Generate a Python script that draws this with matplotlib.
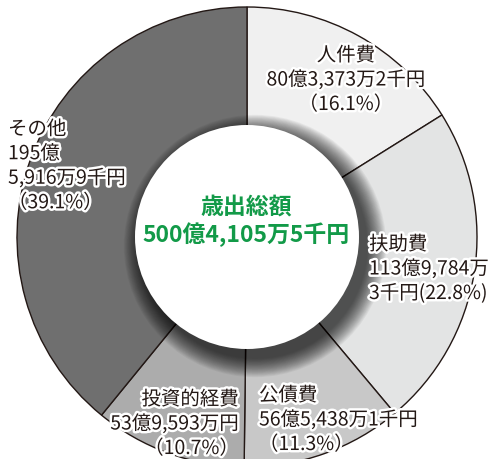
import numpy as np
import matplotlib.pyplot as plt
import matplotlib.patheffects as pe
from matplotlib.patches import Circle

plt.rcParams['font.family'] = ['Noto Sans CJK JP', 'DejaVu Sans']

# 歳出の内訳 (%)
items = ['人件費', '扶助費', '公債費', '投資的経費', 'その他']
shares = [16.1, 22.8, 11.3, 10.7, 39.1]
colors = ['#f0f0f0', '#e3e4e4', '#c8c8c8', '#acacac', '#6f6f6f']
labels = [
    '人件費\n80億3,373万2千円\n（16.1%）',
    '扶助費\n113億9,784万\n3千円(22.8%)',
    '公債費\n56億5,438万1千円\n（11.3%）',
    '投資的経費\n53億9,593万円\n（10.7%）',
    'その他\n195億\n5,916万9千円\n（39.1%）',
]
total_label = '歳出総額\n500億4,105万5千円'

W, H = 499, 459
fig = plt.figure(figsize=(W / 100, H / 100), dpi=100)
ax = fig.add_axes([0, 0, 1, 1])

cx, cy = 247, H - 237
R, r_in = 230, 112

ax.pie(shares, colors=colors, startangle=90, counterclock=False,
       radius=R, center=(cx, cy), frame=True,
       wedgeprops=dict(edgecolor='#231815', linewidth=1.0))
ax.set_xlim(0, W)
ax.set_ylim(0, H)
ax.set_aspect('equal')
ax.axis('off')

# drop shadow under the inner circle
for k in range(24, 0, -1):
    ax.add_patch(Circle((cx + 8, cy - 9), r_in + k * 0.8, color='black',
                        alpha=0.04, lw=0, zorder=3))
ax.add_patch(Circle((cx, cy), r_in, color='white', lw=0, zorder=4))

stroke = [pe.withStroke(linewidth=3.5, foreground='white')]
pos = [(346, 80, 'center'), (369, 269, 'left'), (259, 420, 'left'),
       (239, 424, 'right'), (8, 166, 'left')]
for lab, (x, y, ha) in zip(labels, pos):
    ax.text(x, H - y, lab, ha=ha, va='center', multialignment=ha,
            fontsize=14, color='#231815', linespacing=1.22,
            path_effects=stroke, zorder=5)

ax.text(cx - 1, H - 221, total_label, ha='center', va='center',
        fontsize=16.5, fontweight='bold', color='#129a48',
        linespacing=1.2, zorder=5)

fig.savefig('out.png', dpi=100)
